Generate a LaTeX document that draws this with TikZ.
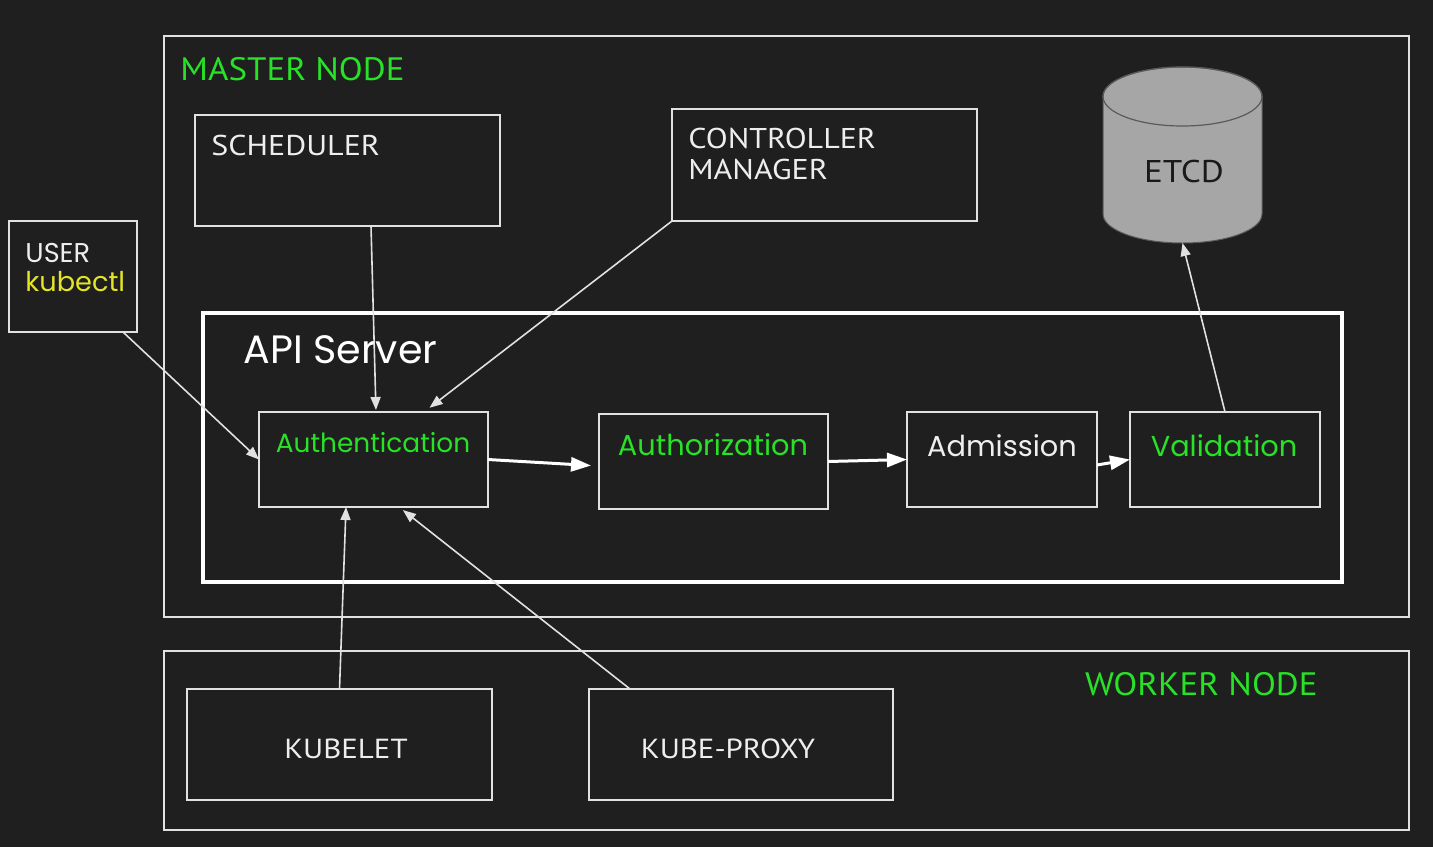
\documentclass[tikz,border=0pt]{standalone}
\usepackage{fontspec}
\setmainfont{Poppins}
\newfontfamily\capsfont[FakeStretch=1.12]{PT Sans}
\newfontfamily\bigcapsfont[FakeStretch=1.08]{PT Sans}
\usetikzlibrary{arrows.meta}
\definecolor{bg}{RGB}{31,31,31}
\definecolor{linec}{RGB}{225,225,225}
\definecolor{txt}{RGB}{238,238,238}
\definecolor{grn}{RGB}{40,226,40}
\definecolor{ylw}{RGB}{228,228,40}
\definecolor{etcdfill}{RGB}{166,166,166}
\definecolor{etcdline}{RGB}{90,90,90}
\begin{document}
\begin{tikzpicture}[x=0.5pt,y=-0.5pt,
  box/.style={draw=linec, line width=1pt, inner sep=0pt, outer sep=0pt},
  conn/.style={draw=linec, line width=0.8pt, -{Triangle[length=6.5pt,width=5pt]}},
  flow/.style={draw=white, line width=1.5pt, -{Triangle[length=10pt,width=7pt]}},
  capslbl/.style={text=txt, font=\capsfont\fontsize{14.3}{17}\selectfont, inner sep=0pt},
  nodelbl/.style={text=grn, font=\bigcapsfont\fontsize{16.2}{19}\selectfont, inner sep=0pt},
  roundlbl/.style={inner sep=0pt, font=\fontsize{14.4}{17}\selectfont}
]
\fill[bg] (0,0) rectangle (1433,847);
\useasboundingbox (0,0) rectangle (1433,847);

% outer containers
\node[box, minimum width=622.5pt, minimum height=290.5pt] (master) at (786.5,326.5) {};
\node[box, minimum width=622.5pt, minimum height=89.5pt] (worker) at (786.5,740.5) {};
\node[nodelbl, anchor=base west] (masterlbl) at (180,80) {MASTER NODE};
\node[nodelbl, anchor=base east] (workerlbl) at (1318,695) {WORKER NODE};

% master components
\node[box, minimum width=152.5pt, minimum height=55.5pt] (sched) at (347.5,170.5) {};
\node[capslbl, anchor=base west] (schedlbl) at (211,155) {SCHEDULER};
\node[box, minimum width=152.5pt, minimum height=56pt] (ctrl) at (824.5,165) {};
\node[capslbl, anchor=base west] (ctrllbl1) at (688,148) {CONTROLLER};
\node[capslbl, anchor=base west] (ctrllbl2) at (688,179) {MANAGER};

% etcd cylinder
\node[minimum width=79.5pt, minimum height=88pt, inner sep=0pt, outer sep=0pt] (etcd) at (1182.5,155) {};
\filldraw[fill=etcdfill, draw=etcdline, line width=0.5pt]
  (1103,96.5) -- (1103,214) arc[start angle=180, end angle=360, x radius=39.75pt, y radius=14.5pt]
  -- (1262,96.5) arc[start angle=0, end angle=180, x radius=39.75pt, y radius=14.75pt] -- cycle;
\draw[etcdline, line width=0.6pt] (1182.5,96.5) ellipse[x radius=39.75pt, y radius=14.75pt];
\node[capslbl, text=black!90, font=\capsfont\fontsize{15.7}{19}\selectfont, anchor=base] (etcdlbl) at (1184,182) {ETCD};

% user
\node[box, minimum width=64pt, minimum height=55.5pt] (user) at (73,276.5) {};
\node[roundlbl, text=txt, font=\fontsize{13.6}{16}\selectfont, anchor=base west] (userlbl) at (25,262) {USER};
\node[roundlbl, text=ylw, font=\fontsize{13.6}{16}\selectfont, anchor=base west] (kubectl) at (25,291) {kubectl};

% API server
\node[draw=white, line width=2pt, inner sep=0pt, outer sep=0pt, minimum width=569.5pt, minimum height=134.5pt] (api) at (772.5,447.5) {};
\node[roundlbl, text=white, font=\fontsize{19.8}{24}\selectfont, anchor=base west] (apilbl) at (243,363) {API Server};

\node[box, minimum width=114.5pt, minimum height=47.5pt] (auth) at (373.5,459.5) {};
\node[roundlbl, text=grn, font=\fontsize{13.2}{16}\selectfont, anchor=base] (authlbl) at (373,452) {Authentication};
\node[box, minimum width=114.5pt, minimum height=47.5pt] (authz) at (713.5,461.5) {};
\node[roundlbl, text=grn, anchor=base] (authzlbl) at (713,455) {Authorization};
\node[box, minimum width=95pt, minimum height=47.5pt] (adm) at (1002,459.5) {};
\node[roundlbl, text=txt, anchor=base] (admlbl) at (1002,456) {Admission};
\node[box, minimum width=95pt, minimum height=47.5pt] (val) at (1225,459.5) {};
\node[roundlbl, text=grn, anchor=base] (vallbl) at (1224,456) {Validation};

% worker components
\node[box, minimum width=152.5pt, minimum height=55.5pt] (kubelet) at (339.5,744.5) {};
\node[capslbl, font=\capsfont\fontsize{13.8}{16}\selectfont, anchor=base] (kubeletlbl) at (346,758) {KUBELET};
\node[box, minimum width=152pt, minimum height=55.5pt] (proxy) at (741,744.5) {};
\node[capslbl, font=\capsfont\fontsize{13.8}{16}\selectfont, anchor=base] (proxylbl) at (728,758) {KUBE-PROXY};

% connectors
\draw[conn, shorten >=1pt] ([xshift=11.75pt]sched.south) -- ([xshift=1.25pt]auth.north);
\draw[conn, shorten >=3.5pt] (ctrl.south west) -- ([xshift=25.25pt]auth.north);
\draw[conn] ([xshift=25pt]user.south) -- (auth.west);
\draw[flow, shorten >=4pt] (auth.east) -- ([yshift=-2.25pt]authz.west);
\draw[flow] (authz.east) -- (adm.west);
\draw[flow] ([yshift=-2.75pt]adm.east) -- (val.west);
\draw[conn] (val.north) -- (etcd.south);
\draw[conn] (kubelet.north) -- ([xshift=-13.75pt]auth.south);
\draw[conn, shorten >=2.5pt] ([xshift=-55.5pt]proxy.north) -- ([xshift=12.75pt]auth.south);
\end{tikzpicture}
\end{document}
